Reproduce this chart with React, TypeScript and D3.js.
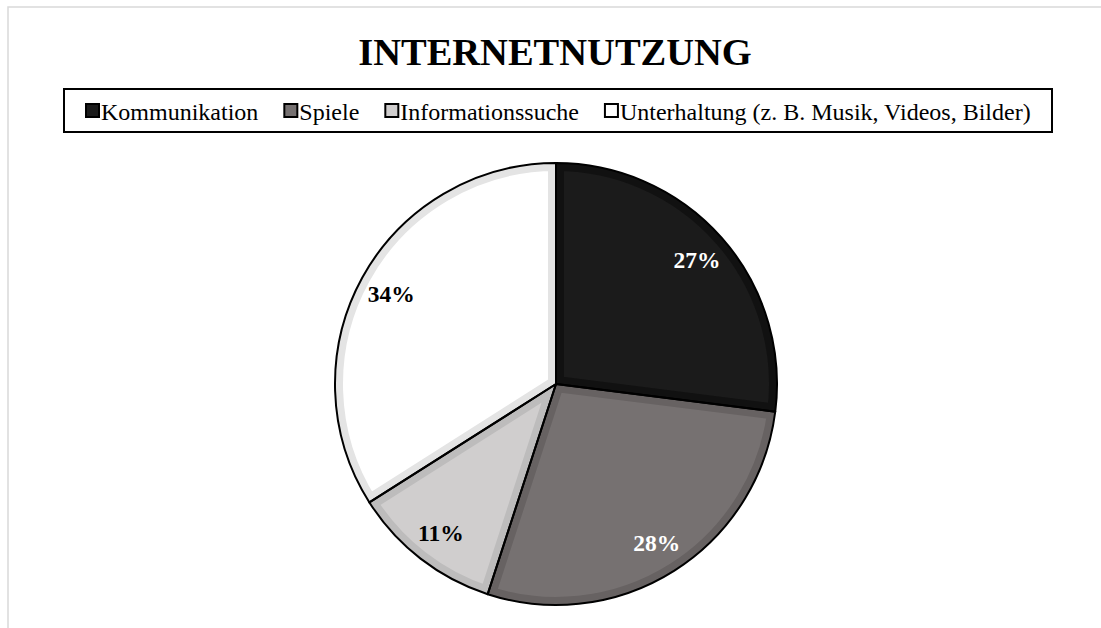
import { useMemo } from "react";
import * as d3 from "d3";

const categories = [
  "Kommunikation",
  "Spiele",
  "Informationssuche",
  "Unterhaltung (z. B. Musik, Videos, Bilder)",
];
const shares = [27, 28, 11, 34];
const labels = ["27%", "28%", "11%", "34%"];
const title = "INTERNETNUTZUNG";

const fills = ["#1b1b1b", "#767171", "#d0cece", "#ffffff"];
const bands = ["#111111", "#676262", "#bdbcbc", "#e4e4e4"];
const labelColors = ["#ffffff", "#ffffff", "#000000", "#000000"];

const W = 1101;
const H = 628;
const FONT = "'Liberation Serif', 'Times New Roman', serif";

type Slice = d3.PieArcDatum<number>;

const measure = (txt: string, font: string) => {
  const ctx = document.createElement("canvas").getContext("2d");
  if (!ctx) return txt.length * 10;
  ctx.font = font;
  return ctx.measureText(txt).width;
};

export default function App() {
  const cx = 556;
  const cy = 384;
  const r = 221;

  const slices = useMemo(
    () =>
      d3
        .pie<number>()
        .sort(null)
        .value((d) => d)(shares),
    []
  );

  const arc = d3.arc<Slice>().innerRadius(0).outerRadius(r);
  const labelArc = d3.arc<Slice>().innerRadius(188).outerRadius(188);

  // legend layout
  const legendFont = `24px ${FONT}`;
  let lx = 86;
  const legendItems = categories.map((c, i) => {
    const item = { x: lx, name: c, i };
    lx += 15 + measure(c, legendFont) + 26;
    return item;
  });

  return (
    <svg
      width={W}
      height={H}
      style={{ position: "absolute", left: 0, top: 0, display: "block" }}
    >
      <rect x={8} y={7} width={1200} height={700} fill="#fff" stroke="#d9d9d9" strokeWidth={1.5} />
      <text
        x={555}
        y={65}
        textAnchor="middle"
        fontFamily={FONT}
        fontWeight="bold"
        fontSize={38.5}
        fill="#000"
      >
        {title}
      </text>

      <rect x={64} y={89} width={988} height={43} fill="#fff" stroke="#000" strokeWidth={2} />
      {legendItems.map((it) => (
        <g key={it.name}>
          <rect
            x={it.x}
            y={104}
            width={13}
            height={13}
            fill={fills[it.i]}
            stroke="#000"
            strokeWidth={2}
          />
          <text x={it.x + 15} y={120} fontFamily={FONT} fontSize={24} fill="#000">
            {it.name}
          </text>
        </g>
      ))}

      <defs>
        {slices.map((s, i) => (
          <clipPath id={`clip${i}`} key={i}>
            <path d={arc(s) || ""} />
          </clipPath>
        ))}
      </defs>
      <g transform={`translate(${cx},${cy})`}>
        {slices.map((s, i) => (
          <g key={i}>
            <path d={arc(s) || ""} fill={fills[i]} />
            <path
              d={arc(s) || ""}
              fill="none"
              stroke={bands[i]}
              strokeWidth={16}
              clipPath={`url(#clip${i})`}
            />
          </g>
        ))}
        {slices.map((s, i) => (
          <path key={i} d={arc(s) || ""} fill="none" stroke="#000" strokeWidth={2} strokeLinejoin="round" />
        ))}
        {slices.map((s, i) => {
          const [x, y] = labelArc.centroid(s);
          return (
            <text
              key={i}
              x={x}
              y={y}
              dy="0.35em"
              textAnchor="middle"
              fontFamily={FONT}
              fontWeight="bold"
              fontSize={23.5}
              fill={labelColors[i]}
            >
              {labels[i]}
            </text>
          );
        })}
      </g>
    </svg>
  );
}
